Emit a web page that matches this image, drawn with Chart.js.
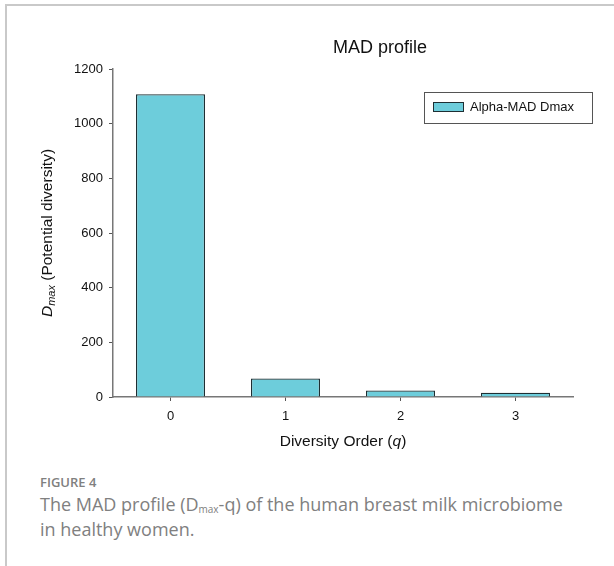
<!DOCTYPE html>
<html lang="en">
<head>
  <meta charset="UTF-8">
  <title>MAD profile</title>
  <script src="https://cdn.jsdelivr.net/npm/chart.js"></script>
  <style>
    html, body { margin: 0; padding: 0; background: #fff; overflow: hidden; }
    #frame {
      position: absolute; left: 5px; top: 4px; width: 620px; height: 580px;
      border-top: 2px solid #c9c9c9; border-left: 2px solid #c9c9c9;
    }
    #wrap { position: absolute; left: 0; top: 0; width: 614px; height: 470px; }
    #caption {
      position: absolute; left: 40px; top: 472px; width: 532px;
      font-family: "Open Sans", sans-serif; color: #808080;
    }
    #caption .fig { font-size: 13px; font-weight: 600; line-height: 20px; }
    #caption .txt { font-size: 18px; line-height: 25px; }
    #caption sub { font-size: 10px; line-height: 0; vertical-align: -2px; }
  </style>
</head>
<body>
<div id="frame"></div>
<div id="wrap"><canvas id="madChart" width="614" height="470"></canvas></div>
<div id="caption">
  <div class="fig">FIGURE 4</div>
  <div class="txt">The MAD profile (D<sub>max</sub>-q) of the human breast milk microbiome in healthy women.</div>
</div>

<script>
    const orders = ['0', '1', '2', '3'];
    const dmaxValues = [1108, 68, 24, 16];
    const yMax = 1200;
    const yStep = 200;

    const sans = '"Liberation Sans", Arial, sans-serif';

    // draws a run of text pieces with their own fonts, starting at x
    function drawRuns(ctx, runs, x, y) {
        runs.forEach(r => {
            ctx.font = r.font;
            ctx.fillText(r.text, x, y + (r.dy || 0));
            x += ctx.measureText(r.text).width;
        });
    }
    function runsWidth(ctx, runs) {
        let w = 0;
        runs.forEach(r => { ctx.font = r.font; w += ctx.measureText(r.text).width; });
        return w;
    }

    const decorations = {
        id: 'decorations',
        afterDraw(chart) {
            const ctx = chart.ctx;
            const area = chart.chartArea;
            ctx.save();
            ctx.fillStyle = '#111';
            ctx.textBaseline = 'middle';

            // title
            ctx.font = '18px ' + sans;
            ctx.textAlign = 'center';
            ctx.fillText('MAD profile', 380, 48);

            // x axis title
            ctx.textAlign = 'left';
            const xRuns = [
                { text: 'Diversity Order (', font: '15.5px ' + sans },
                { text: 'q', font: 'italic 15.5px ' + sans },
                { text: ')', font: '15.5px ' + sans }
            ];
            const xw = runsWidth(ctx, xRuns);
            drawRuns(ctx, xRuns, (area.left + area.right) / 2 - xw / 2, 442);

            // y axis title
            const yRuns = [
                { text: 'D', font: 'italic 15.5px ' + sans },
                { text: 'max', font: 'italic 11px ' + sans, dy: 4 },
                { text: ' (Potential diversity)', font: '15.5px ' + sans }
            ];
            const yw = runsWidth(ctx, yRuns);
            ctx.translate(48, (area.top + area.bottom) / 2);
            ctx.rotate(-Math.PI / 2);
            drawRuns(ctx, yRuns, -yw / 2, 0);
            ctx.setTransform(1, 0, 0, 1, 0, 0);

            // legend box
            const ds = chart.data.datasets[0];
            ctx.strokeStyle = '#555';
            ctx.lineWidth = 1;
            ctx.strokeRect(424.5, 92.5, 168, 31);
            ctx.fillStyle = ds.backgroundColor;
            ctx.fillRect(433, 102, 31, 10);
            ctx.strokeStyle = ds.borderColor;
            ctx.strokeRect(433.5, 102.5, 30, 9);
            ctx.fillStyle = '#111';
            ctx.font = '13px ' + sans;
            ctx.fillText(ds.label, 470, 107);
            ctx.restore();
        }
    };

    new Chart(document.getElementById('madChart'), {
        type: 'bar',
        data: {
            labels: orders,
            datasets: [{
                label: 'Alpha-MAD Dmax',
                data: dmaxValues,
                backgroundColor: '#6dcddb',
                borderColor: '#1e2f33',
                borderWidth: 1.3,
                categoryPercentage: 1,
                barPercentage: 0.6
            }]
        },
        options: {
            responsive: false,
            animation: false,
            events: [],
            layout: { padding: { left: 0, right: 41, top: 69, bottom: 0 } },
            plugins: {
                legend: { display: false },
                title: { display: false },
                tooltip: { enabled: false }
            },
            scales: {
                x: {
                    afterFit(scale) { scale.height = 73; },
                    grid: {
                        display: true, drawOnChartArea: false, offset: false,
                        tickLength: 4, color: '#555'
                    },
                    border: { color: '#777', width: 1.5 },
                    ticks: { color: '#111', padding: 8, font: { family: sans, size: 13 } }
                },
                y: {
                    min: 0,
                    max: yMax,
                    afterFit(scale) { scale.width = 113; },
                    grid: {
                        display: true, drawOnChartArea: false,
                        tickLength: 4, color: '#555'
                    },
                    border: { color: '#777', width: 1.5 },
                    ticks: {
                        stepSize: yStep,
                        color: '#111',
                        padding: 6,
                        font: { family: sans, size: 13 },
                        callback: v => String(v)
                    }
                }
            }
        },
        plugins: [decorations]
    });
</script>
</body>
</html>
